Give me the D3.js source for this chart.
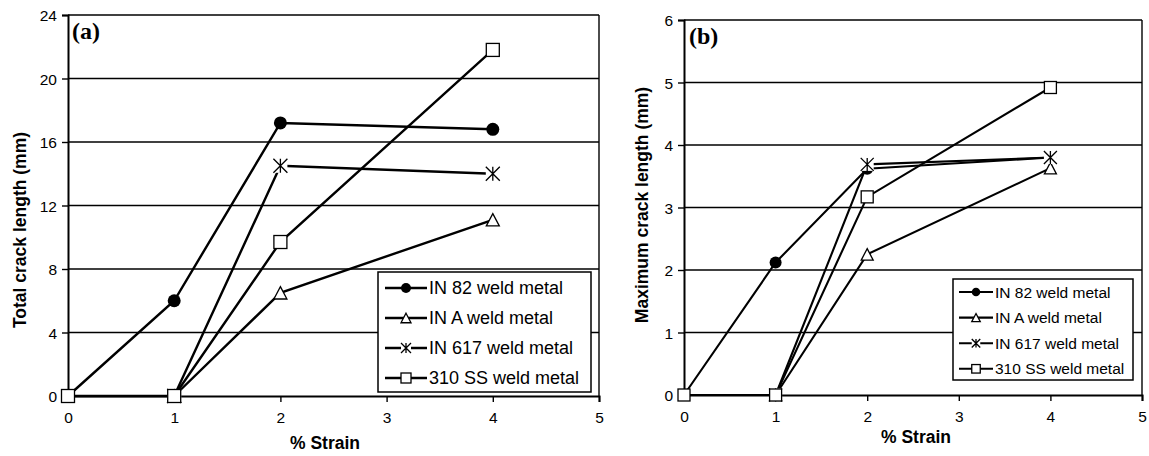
<!DOCTYPE html>
<html>
<head>
<meta charset="utf-8">
<script src="https://cdn.jsdelivr.net/npm/d3@7.9.0/dist/d3.min.js"></script>
<style>
  body { margin: 0; background: #fff; }
  svg { display: block; }
  text { font-family: "Liberation Sans", Arial, sans-serif; fill: #000; }
</style>
</head>
<body>
<svg id="chart" width="1149" height="456"></svg>
<script>
// strain levels (x) shared by both panels
const strain = [0, 1, 2, 4];
const seriesNames = ['IN 82 weld metal', 'IN A weld metal', 'IN 617 weld metal', '310 SS weld metal'];
const markerTypes = ['circle', 'triangle', 'star', 'square'];
const xTicks = [0, 1, 2, 3, 4, 5];

// (a) total crack length, mm
const totalIN82 = [0, 6.0, 17.2, 16.8];
const totalINA = [null, 0, 6.5, 11.1];
const totalIN617 = [null, 0, 14.5, 14.0];
const total310SS = [0, 0, 9.7, 21.8];
const totalTicks = [0, 4, 8, 12, 16, 20, 24];

// (b) maximum crack length, mm
const maxIN82 = [0, 2.12, 3.62, 3.8];
const maxINA = [null, 0, 2.25, 3.63];
const maxIN617 = [null, 0, 3.69, 3.8];
const max310SS = [0, 0, 3.17, 4.92];
const maxTicks = [0, 1, 2, 3, 4, 5, 6];

const svg = d3.select('#chart');

const drawMarker = (g, type, x, y, s) => {
  if (type === 'circle') {
    g.append('circle').attr('cx', x).attr('cy', y).attr('r', s / 2).attr('fill', '#000');
  } else if (type === 'square') {
    g.append('rect').attr('x', x - s / 2).attr('y', y - s / 2).attr('width', s).attr('height', s)
      .attr('fill', '#fff').attr('stroke', '#000').attr('stroke-width', 1.3);
  } else if (type === 'triangle') {
    const h = s * 0.95;
    g.append('path')
      .attr('d', `M${x},${y - h / 2}L${x + s / 2},${y + h / 2}L${x - s / 2},${y + h / 2}Z`)
      .attr('fill', '#fff').attr('stroke', '#000').attr('stroke-width', 1.3);
  } else {
    // asterisk: white box behind an x with a vertical bar
    g.append('rect').attr('x', x - s / 2).attr('y', y - s / 2).attr('width', s).attr('height', s).attr('fill', '#fff');
    const r = s / 2;
    g.append('path')
      .attr('d', `M${x - r},${y - r}L${x + r},${y + r}M${x - r},${y + r}L${x + r},${y - r}M${x},${y - r}L${x},${y + r}`)
      .attr('stroke', '#000').attr('stroke-width', 1.3).attr('fill', 'none');
  }
};

const drawPanel = (cfg) => {
  const x = d3.scaleLinear().domain([0, 5]).range([cfg.left, cfg.right]);
  const y = d3.scaleLinear().domain([0, cfg.yMax]).range([cfg.bottom, cfg.top]);
  const g = svg.append('g');

  // horizontal gridlines
  g.append('g').selectAll('line').data(cfg.yTicks.filter((d) => d > 0)).join('line')
    .attr('x1', cfg.left).attr('x2', cfg.right)
    .attr('y1', (d) => y(d)).attr('y2', (d) => y(d))
    .attr('stroke', '#000').attr('stroke-width', 1.4);

  // right border
  g.append('line').attr('x1', cfg.right).attr('x2', cfg.right).attr('y1', cfg.top).attr('y2', cfg.bottom)
    .attr('stroke', '#000').attr('stroke-width', 1.4);

  const yAxis = g.append('g').attr('transform', `translate(${cfg.left},0)`)
    .call(d3.axisLeft(y).tickValues(cfg.yTicks).tickSize(6).tickPadding(5).tickFormat(d3.format('d')));
  const xAxis = g.append('g').attr('transform', `translate(0,${cfg.bottom})`)
    .call(d3.axisBottom(x).tickValues(xTicks).tickSize(6).tickPadding(10).tickFormat(d3.format('d')));
  [yAxis, xAxis].forEach((a) => {
    a.select('.domain').attr('stroke', '#000').attr('stroke-width', 2);
    a.selectAll('.tick line').attr('stroke', '#000').attr('stroke-width', 1.4);
    a.selectAll('.tick text').style('font-size', '15.5px').attr('fill', '#000');
  });
  yAxis.selectAll('.tick text').attr('dy', '0.36em');

  // series lines then markers
  const line = d3.line().defined((d) => d[1] != null).x((d) => x(d[0])).y((d) => y(d[1]));
  cfg.series.forEach((vals) => {
    const pts = strain.map((s, i) => [s, vals[i]]);
    g.append('path').datum(pts).attr('d', line)
      .attr('fill', 'none').attr('stroke', '#000').attr('stroke-width', cfg.lineWidth);
  });
  cfg.series.forEach((vals, k) => {
    const mg = g.append('g');
    strain.forEach((s, i) => {
      if (vals[i] == null) return;
      drawMarker(mg, markerTypes[k], x(s), y(vals[i]), markerTypes[k] === 'star' ? cfg.marker + 1 : cfg.marker);
    });
  });

  // panel label
  g.append('text').attr('x', cfg.labelX).attr('y', cfg.labelY).text(cfg.label)
    .style('font-family', '"Liberation Serif", "Times New Roman", serif').style('font-weight', 'bold').style('font-size', '24px');

  // axis titles
  g.append('text').attr('transform', `translate(${cfg.yTitleX},${cfg.yTitleY}) rotate(-90)`)
    .attr('text-anchor', 'middle').style('font-weight', 'bold').style('font-size', '17.5px').text(cfg.yTitle);
  g.append('text').attr('x', cfg.xTitleX).attr('y', cfg.xTitleY)
    .attr('text-anchor', 'middle').style('font-weight', 'bold').style('font-size', '17.5px').text('% Strain');

  // legend
  const L = cfg.legend;
  const lg = g.append('g');
  lg.append('rect').attr('x', L.x).attr('y', L.y).attr('width', L.w).attr('height', L.h)
    .attr('fill', '#fff').attr('stroke', '#000').attr('stroke-width', 1.5);
  seriesNames.forEach((name, k) => {
    const cy = L.y + L.first + k * L.step;
    lg.append('line').attr('x1', L.lineX1).attr('x2', L.lineX2).attr('y1', cy).attr('y2', cy)
      .attr('stroke', '#000').attr('stroke-width', cfg.lineWidth);
    drawMarker(lg, markerTypes[k], (L.lineX1 + L.lineX2) / 2, cy, L.marker);
    lg.append('text').attr('x', L.textX).attr('y', cy).attr('dy', '0.36em')
      .style('font-size', L.font + 'px').text(name);
  });
};

drawPanel({
  left: 68, right: 599, top: 15, bottom: 396, yMax: 24, yTicks: totalTicks,
  series: [totalIN82, totalINA, totalIN617, total310SS],
  lineWidth: 2.4, marker: 13,
  label: '(a)', labelX: 72, labelY: 39,
  yTitle: 'Total crack length (mm)', yTitleX: 26, yTitleY: 230,
  xTitleX: 325, xTitleY: 449,
  legend: { x: 378, y: 272, w: 213, h: 120, first: 16, step: 30, lineX1: 385, lineX2: 427, textX: 429, marker: 10, font: 18 }
});

drawPanel({
  left: 684, right: 1142, top: 20, bottom: 395, yMax: 6, yTicks: maxTicks,
  series: [maxIN82, maxINA, maxIN617, max310SS],
  lineWidth: 2.1, marker: 12,
  label: '(b)', labelX: 689, labelY: 44,
  yTitle: 'Maximum crack length (mm)', yTitleX: 648, yTitleY: 205,
  xTitleX: 916, xTitleY: 443,
  legend: { x: 953, y: 279, w: 180, h: 101, first: 13, step: 25.6, lineX1: 959, lineX2: 993, textX: 995, marker: 8.5, font: 15.5 }
});
</script>
</body>
</html>
